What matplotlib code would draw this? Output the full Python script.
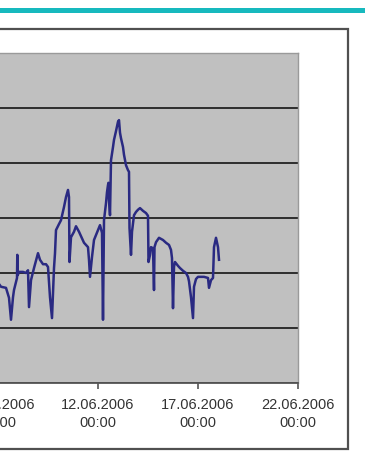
import numpy as np
import pandas as pd
import matplotlib
matplotlib.use("Agg")
import matplotlib.pyplot as plt
import matplotlib.dates as mdates
from matplotlib.patches import Rectangle

# time axis: day of June 2006 (fractional), series value in grid units
day = [7.05, 7.15, 7.40, 7.55, 7.65, 7.75, 7.80, 7.95, 7.965, 7.985, 8.05, 8.25, 8.40,
       8.50, 8.55, 8.65, 8.80, 9.00, 9.10, 9.25, 9.40, 9.50, 9.60, 9.70, 9.80, 9.85,
       9.90, 10.05, 10.15, 10.30, 10.40, 10.50, 10.55, 10.575, 10.65, 10.80, 10.90,
       11.05, 11.30, 11.50, 11.55, 11.60, 11.70, 11.80, 12.00, 12.10, 12.20, 12.25,
       12.30, 12.40, 12.45, 12.50, 12.525, 12.55, 12.60, 12.65, 12.75, 12.80, 12.90,
       13.00, 13.05, 13.10, 13.15, 13.25, 13.30, 13.40, 13.50, 13.55, 13.575, 13.65,
       13.70, 13.80, 13.90, 14.00, 14.10, 14.25, 14.40, 14.50, 14.525, 14.60, 14.65,
       14.75, 14.80, 14.825, 14.90, 15.05, 15.25, 15.40, 15.55, 15.65, 15.70, 15.75,
       15.80, 15.85, 16.00, 16.10, 16.25, 16.40, 16.50, 16.55, 16.65, 16.75, 16.80,
       16.90, 17.00, 17.15, 17.30, 17.50, 17.55, 17.65, 17.75, 17.80, 17.90, 18.00,
       18.05]
value = [1.80, 1.75, 1.73, 1.55, 1.15, 1.56, 1.69, 1.91, 2.33, 1.96, 2.02, 2.02, 2.00,
         2.05, 1.38, 1.87, 2.09, 2.36, 2.24, 2.16, 2.16, 2.11, 1.56, 1.18, 2.09, 2.36,
         2.78, 2.89, 2.96, 3.20, 3.38, 3.51, 3.38, 2.20, 2.65, 2.75, 2.85, 2.75, 2.55,
         2.47, 2.24, 1.93, 2.29, 2.60, 2.78, 2.87, 2.73, 1.15, 2.96, 3.27, 3.47, 3.60,
         3.64, 3.33, 3.05, 4.05, 4.29, 4.42, 4.58, 4.75, 4.78, 4.55, 4.45, 4.29, 4.15,
         3.96, 3.87, 3.84, 2.82, 2.33, 2.75, 3.05, 3.11, 3.15, 3.18, 3.13, 3.09, 3.04,
         2.20, 2.33, 2.47, 2.45, 1.69, 2.47, 2.56, 2.64, 2.60, 2.55, 2.51, 2.42, 2.27,
         1.36, 2.11, 2.20, 2.13, 2.09, 2.04, 2.00, 1.93, 1.85, 1.56, 1.18, 1.75, 1.89,
         1.93, 1.93, 1.93, 1.91, 1.73, 1.87, 1.91, 2.47, 2.64, 2.47, 2.24]

x_start, x_end = "2006-06-02", "2006-06-22"
y_max = 6

plt.rcParams["font.family"] = ["Liberation Sans", "DejaVu Sans"]

W, H = 365, 468
fig = plt.figure(figsize=(W / 100, H / 100), dpi=100)
fig.patch.set_facecolor("white")

# teal header strip
fig.patches.append(Rectangle((0, 1 - 13 / H), 1, 5 / H, transform=fig.transFigure,
                             facecolor="#17b9be", edgecolor="none", zorder=0))
# chart frame (left side runs past the figure edge)
fig.patches.append(Rectangle((-0.2, 19 / H), 348 / W + 0.2, (449 - 29) / H,
                             transform=fig.transFigure, facecolor="none",
                             edgecolor="#505050", lw=1.6, zorder=1))

ax = fig.add_axes([(298 - 400) / W, (H - 383) / H, 400 / W, 330 / H])
ax.set_facecolor("#c0c0c0")

t = pd.Timestamp("2006-06-01") + pd.to_timedelta(np.array(day) - 1, unit="D")
ax.plot(t, value, color="#2a2a82", lw=1.8, solid_joinstyle="round")

ax.set_xlim(pd.Timestamp(x_start), pd.Timestamp(x_end))
ax.set_ylim(0, y_max)
ax.set_yticks(range(y_max + 1))
ax.yaxis.grid(True, color="#2e2e2e", lw=1.4)
ax.set_axisbelow(True)
ax.tick_params(axis="y", left=False, labelleft=False)

ax.xaxis.set_major_locator(mdates.DayLocator(bymonthday=[2, 7, 12, 17, 22]))
ax.xaxis.set_major_formatter(mdates.DateFormatter("%d.%m.%Y\n%H:%M"))
ax.tick_params(axis="x", direction="out", length=4, width=1.2, color="#555555",
               labelsize=10.5, labelcolor="#333333", pad=7)
for lbl in ax.get_xticklabels():
    lbl.set_linespacing(1.35)

for side in ("top", "right", "left"):
    ax.spines[side].set_color("#9a9a9a")
    ax.spines[side].set_linewidth(1.0)
ax.spines["bottom"].set_color("#555555")
ax.spines["bottom"].set_linewidth(1.3)

fig.savefig("out.png", dpi=100)
